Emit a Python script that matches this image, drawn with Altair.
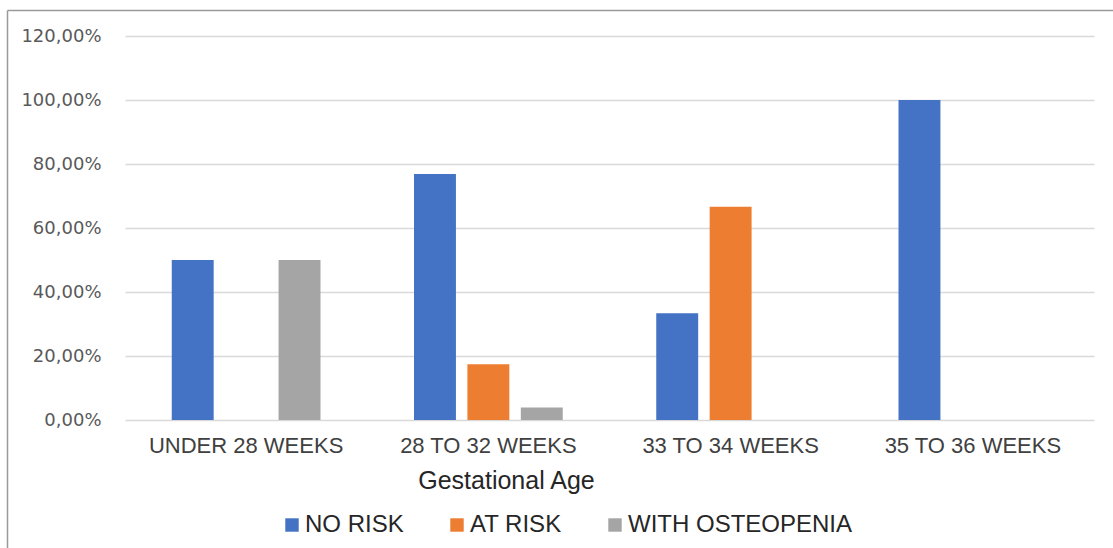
import altair as alt
import pandas as pd

# Share of infants by bone-health group, per gestational age band (%)
age_groups = ["UNDER 28 WEEKS", "28 TO 32 WEEKS", "33 TO 34 WEEKS", "35 TO 36 WEEKS"]
series = ["NO RISK", "AT RISK", "WITH OSTEOPENIA"]
no_risk = [50.0, 76.9, 33.33, 100.0]
at_risk = [0.0, 17.4, 66.67, 0.0]
with_osteopenia = [50.0, 3.9, 0.0, 0.0]
colors = ["#4472C4", "#ED7D31", "#A5A5A5"]
y_ticks = [0, 20, 40, 60, 80, 100, 120]

rows = []
for name, values in zip(series, [no_risk, at_risk, with_osteopenia]):
    for grp, v in zip(age_groups, values):
        rows.append({"group": grp, "series": name, "pct": v})
df = pd.DataFrame(rows)

bars = alt.Chart(df).mark_bar().encode(
    x=alt.X(
        "group:N",
        sort=age_groups,
        title="Gestational Age",
        scale=alt.Scale(paddingInner=0.386, paddingOuter=0.193),
        axis=alt.Axis(
            labelAngle=0,
            labelFont="Liberation Sans",
            labelFontSize=22,
            labelColor="#404040",
            labelBaseline="alphabetic",
            labelPadding=32,
            labelLimit=400,
            ticks=False,
            domain=False,
            titleFont="Liberation Sans",
            titleFontSize=25,
            titleFontWeight="normal",
            titleColor="#262626",
            titleAnchor="start",
            titleAlign="center",
            titleBaseline="alphabetic",
            titleX=381,
            titleY=68,
        ),
    ),
    xOffset=alt.XOffset(
        "series:N",
        sort=series,
        scale=alt.Scale(domain=series, paddingInner=0.215, paddingOuter=0),
    ),
    y=alt.Y(
        "pct:Q",
        title=None,
        scale=alt.Scale(domain=[0, 120], nice=False),
        axis=alt.Axis(
            values=y_ticks,
            labelExpr="replace(format(datum.value, '.2f'), '.', ',') + '%'",
            labelFont="DejaVu Sans",
            labelFontSize=18,
            labelColor="#595959",
            labelPadding=24,
            ticks=False,
            domain=False,
            gridColor="#d9d9d9",
            gridWidth=1.5,
        ),
    ),
    color=alt.Color(
        "series:N",
        sort=series,
        scale=alt.Scale(domain=series, range=colors),
        legend=alt.Legend(
            title=None,
            orient="none",
            direction="horizontal",
            legendX=155,
            legendY=477,
            symbolType="square",
            symbolSize=180,
            symbolStrokeWidth=0,
            labelFont="Liberation Sans",
            labelFontSize=24,
            labelColor="#262626",
            labelOffset=1,
            labelLimit=400,
            columnPadding=41,
            padding=0,
        ),
    ),
)

# Outer frame: left and top edges
frame_df = pd.DataFrame({"k": [0]})
frame_top = alt.Chart(frame_df).mark_rule(color="#9a9a9a", strokeWidth=1.5).encode(
    x=alt.value(-117.5), x2=alt.value(1000), y=alt.value(-25.5)
)
frame_left = alt.Chart(frame_df).mark_rule(color="#9a9a9a", strokeWidth=1.5).encode(
    x=alt.value(-117.5), y=alt.value(-25.5), y2=alt.value(600)
)

chart = alt.layer(bars, frame_top, frame_left).properties(
    width=969,
    height=384,
    autosize="none",
    padding={"left": 125, "top": 36, "right": 19, "bottom": 128},
    background="white",
).configure_view(stroke=None)

chart.save("out.html", embed_options={"renderer": "svg", "actions": False})
